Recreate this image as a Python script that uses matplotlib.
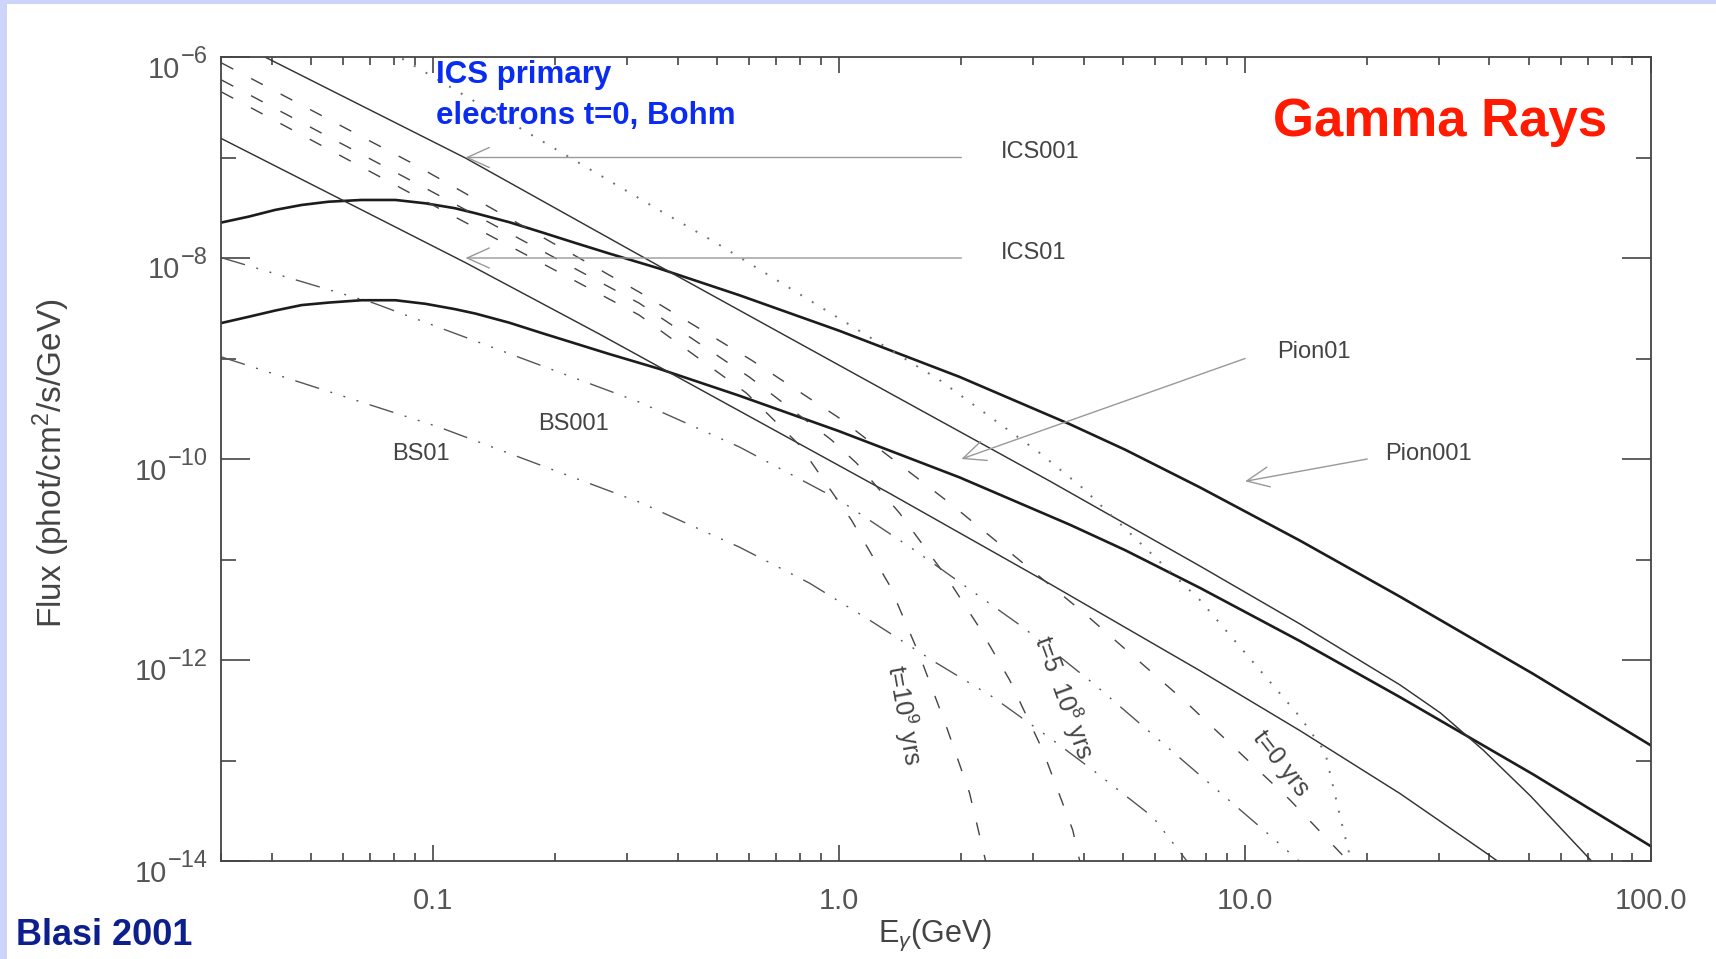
import numpy as np
import matplotlib
matplotlib.use("Agg")
import matplotlib.pyplot as plt
from matplotlib.patches import Rectangle
from matplotlib.ticker import FixedLocator, NullFormatter

plt.rcParams['font.family'] = ['Liberation Sans', 'DejaVu Sans']
plt.rcParams['mathtext.fontset'] = 'custom'
plt.rcParams['mathtext.rm'] = 'Liberation Sans'
plt.rcParams['mathtext.it'] = 'Liberation Sans:italic'
plt.rcParams['mathtext.bf'] = 'Liberation Sans:bold'

# photon energy in GeV, flux in phot/cm^2/s/GeV
# pion decay, two cases
e_pion = [0.03, 0.0351, 0.0408, 0.0474, 0.0552, 0.0666, 0.0807, 0.0957, 0.113, 0.127,
          0.154, 0.186, 0.224, 0.271, 0.36, 0.567, 1.0, 1.98, 3.70, 5.06, 7.74, 13.66,
          24.1, 51.3, 100.0]
pion001 = [2.25e-8, 2.58e-8, 3.01e-8, 3.37e-8, 3.63e-8, 3.78e-8, 3.78e-8, 3.50e-8, 3.13e-8,
           2.79e-8, 2.27e-8, 1.79e-8, 1.41e-8, 1.11e-8, 7.87e-9, 4.27e-9, 1.89e-9, 6.56e-10,
           2.22e-10, 1.24e-10, 5.22e-11, 1.54e-11, 4.26e-12, 7.26e-13, 1.41e-13]
pion01 = [2.25e-9, 2.6e-9, 3.0e-9, 3.4e-9, 3.6e-9, 3.8e-9, 3.8e-9, 3.5e-9, 3.1e-9,
          2.8e-9, 2.27e-9, 1.78e-9, 1.41e-9, 1.11e-9, 7.9e-10, 4.27e-10, 1.89e-10, 6.56e-11,
          2.22e-11, 1.24e-11, 5.22e-12, 1.54e-12, 4.26e-13, 7.26e-14, 1.4e-14]

# ICS from secondary electrons (thin solid)
e_ics001 = [0.03, 0.120, 0.36, 1.33, 3.30, 7.74, 13.66, 24.1, 30.3, 38.6, 50.5, 69.8, 84.1]
ics001 = [1.66e-6, 9.89e-8, 8.32e-9, 4.54e-10, 6.04e-11, 8.61e-12, 2.28e-12, 5.64e-13,
          2.97e-13, 1.27e-13, 4.43e-14, 1.10e-14, 4.9e-15]
e_ics01 = [0.03, 0.120, 0.256, 1.33, 3.30, 7.74, 13.66, 24.1, 39.5, 45.0]
ics01 = [1.55e-7, 9.0e-9, 1.76e-9, 4.56e-11, 5.74e-12, 7.83e-13, 1.98e-13, 4.68e-14,
         1.18e-14, 8.1e-15]

# ICS primary electrons t=0, Bohm (dotted)
e_prim = [0.0734, 0.36, 0.498, 1.767, 3.118, 3.981, 7.74, 13.66, 15.74, 17.15, 18.25, 18.57]
prim = [1.32e-6, 3.00e-8, 1.41e-8, 6.11e-10, 1.15e-10, 5.14e-11, 3.95e-12, 2.71e-13, 1.22e-13,
        2.74e-14, 1.0e-14, 6.5e-15]

# ICS primaries at later times (dashed)
e_t0 = [0.0301, 0.0885, 0.3214, 0.6074, 1.0, 1.871, 3.98, 7.19, 12.9, 17.94, 18.36]
t0 = [8.72e-7, 8.82e-8, 4.59e-9, 9.66e-10, 2.56e-10, 3.65e-11, 3.01e-12, 3.73e-13, 4.05e-14,
      1.0e-14, 6.5e-15]
e_t5e8 = [0.0301, 0.0975, 0.3214, 0.6005, 0.9567, 1.103, 1.408, 1.839, 2.218, 2.630, 3.172,
          3.762, 3.914, 3.959]
t5e8 = [5.90e-7, 4.75e-8, 3.56e-9, 6.55e-10, 1.55e-10, 9.12e-11, 2.90e-11, 6.70e-12, 2.08e-12,
        6.32e-13, 1.27e-13, 2.03e-14, 1.0e-14, 6.5e-15]
e_t1e9 = [0.0301, 0.0975, 0.3214, 0.5904, 0.7977, 1.072, 1.330, 1.577, 1.839, 2.095, 2.295, 2.321]
t1e9 = [4.48e-7, 3.53e-8, 2.71e-9, 4.54e-10, 1.38e-10, 2.47e-11, 5.57e-12, 1.12e-12, 2.15e-13,
        4.75e-14, 1.0e-14, 6.5e-15]

# bremsstrahlung (dash dot)
e_bs001 = [0.03, 0.0713, 0.3214, 0.5673, 1.0, 1.533, 2.831, 4.214, 6.909, 10.89, 13.66, 14.46]
bs001 = [1.01e-8, 3.56e-9, 3.69e-10, 1.32e-10, 3.91e-11, 1.24e-11, 2.13e-12, 5.90e-13, 1.06e-13,
         2.18e-14, 9.8e-15, 8.1e-15]
e_bs01 = [0.03, 0.1032, 0.3214, 0.5673, 0.8444, 1.187, 1.737, 2.388, 3.357, 4.214, 5.926,
          7.189, 7.52]
bs01 = [1.04e-9, 2.08e-10, 3.73e-11, 1.33e-11, 5.83e-12, 2.50e-12, 9.33e-13, 4.29e-13, 1.60e-13,
        8.04e-14, 2.74e-14, 1.0e-14, 6.5e-15]

xticks = [0.1, 1.0, 10.0, 100.0]
xticklabels = ['0.1', '1.0', '10.0', '100.0']
yticks = [1e-14, 1e-12, 1e-10, 1e-8, 1e-6]
yexponents = ['\u221214', '\u221212', '\u221210', '\u22128', '\u22126']

fig = plt.figure(figsize=(17.16, 9.59), dpi=100)
fig.patch.set_facecolor('white')
# light blue slide border
fig.add_artist(Rectangle((0, 0), 7 / 1716, 1, transform=fig.transFigure, color='#cdd4fa', lw=0))
fig.add_artist(Rectangle((0, 1 - 4 / 959), 1, 4 / 959, transform=fig.transFigure, color='#cdd4fa', lw=0))

ax = fig.add_axes([221 / 1716, 1 - 861 / 959, 1430 / 1716, 804 / 959])
ax.set_xscale('log')
ax.set_yscale('log')

dash = (0, (9.5, 14.5))
dashdot = (0, (18, 8.5, 1.4, 8.5, 1.4, 8.5, 1.4, 8.5))
dots = (0, (1, 6))

ax.plot(e_pion, pion001, color='#1c1c1c', lw=1.9)
ax.plot(e_pion, pion01, color='#1c1c1c', lw=1.9)
ax.plot(e_ics001, ics001, color='#333333', lw=1.05)
ax.plot(e_ics01, ics01, color='#333333', lw=1.05)
ax.plot(e_prim, prim, color='#707070', lw=1.4, linestyle=dots)
ax.plot(e_t0, t0, color='#444444', lw=1.0, linestyle=dash)
ax.plot(e_t5e8, t5e8, color='#444444', lw=1.0, linestyle=dash)
ax.plot(e_t1e9, t1e9, color='#444444', lw=1.0, linestyle=dash)
ax.plot(e_bs001, bs001, color='#555555', lw=1.0, linestyle=dashdot)
ax.plot(e_bs01, bs01, color='#555555', lw=1.0, linestyle=dashdot)

ax.set_xlim(0.03, 100)
ax.set_ylim(1e-14, 1e-6)

ax.xaxis.set_major_locator(FixedLocator(xticks))
ax.set_xticklabels(xticklabels)
ax.xaxis.set_minor_locator(FixedLocator([m * 10.0 ** k for k in range(-2, 2) for m in range(2, 10)]))
ax.xaxis.set_minor_formatter(NullFormatter())
ax.yaxis.set_major_locator(FixedLocator(yticks))
ax.yaxis.set_major_formatter(NullFormatter())
ax.yaxis.set_minor_locator(FixedLocator([1e-13, 1e-11, 1e-9, 1e-7]))
ax.yaxis.set_minor_formatter(NullFormatter())

ax.tick_params(which='both', direction='in', top=True, right=True, color='#444444', width=1.2)
ax.tick_params(axis='x', which='major', length=11.5, pad=19, labelsize=21, labelcolor='#555555')
ax.tick_params(axis='x', which='minor', length=5.5)
ax.tick_params(axis='y', which='major', length=21)
ax.tick_params(axis='y', which='minor', length=10.5)
for s in ax.spines.values():
    s.set_color('#444444')
    s.set_linewidth(1.3)

# IDL style y labels: big "10" with a large raised exponent
for v, ex in zip(yticks, yexponents):
    t_exp = ax.text(-0.0091, v, ex, transform=ax.get_yaxis_transform(), ha='right',
                    va='center', fontsize=17, color='#555555')
    ax.annotate('10', xy=(0, 0.5), xycoords=t_exp, xytext=(-1, -9), textcoords='offset points',
                ha='right', va='center', fontsize=21, color='#555555')

ax.set_xlabel(r'E$_\gamma$(GeV)', fontsize=22, color='#444444')
ax.xaxis.set_label_coords(0.499, -0.071)
ax.set_ylabel(r'Flux (phot/cm$^2$/s/GeV)', fontsize=24, color='#444444')
ax.yaxis.set_label_coords(-0.104, 0.495)

# arrows and curve labels
arrow = dict(arrowstyle='->,head_length=0.8,head_width=0.36', color='#999999', lw=1.0,
             shrinkA=0, shrinkB=0, mutation_scale=20)
ax.annotate('', xy=(0.12, 1e-7), xytext=(2.0, 1e-7), arrowprops=arrow)
ax.annotate('', xy=(0.12, 1e-8), xytext=(2.0, 1e-8), arrowprops=arrow)
ax.annotate('', xy=(2.0, 1e-10), xytext=(10.0, 1e-9), arrowprops=arrow)
ax.annotate('', xy=(10.0, 6e-11), xytext=(20.0, 1e-10), arrowprops=arrow)

lab = dict(fontsize=17, color='#444444')
ax.text(2.5, 1.13e-7, 'ICS001', ha='left', va='center', **lab)
ax.text(2.5, 1.12e-8, 'ICS01', ha='left', va='center', **lab)
ax.text(12.0, 1.16e-9, 'Pion01', ha='left', va='center', **lab)
ax.text(22.1, 1.11e-10, 'Pion001', ha='left', va='center', **lab)
ax.text(0.2215, 2.25e-10, 'BS001', ha='center', va='center', **lab)
ax.text(0.0934, 1.11e-10, 'BS01', ha='center', va='center', **lab)
rot = dict(fontsize=18, color='#444444', ha='center', va='center', rotation_mode='anchor')
ax.text(1.448, 2.84e-13, r't=10$^9$ yrs', rotation=-80, **rot)
ax.text(3.574, 4.29e-13, r't=5  10$^8$ yrs', rotation=-70, **rot)
ax.text(12.27, 9.44e-14, 't=0 yrs', rotation=-52, **rot)

# slide annotations
fig.text(436 / 1716, 1 - 83 / 959, 'ICS primary', fontsize=22.5, fontweight='bold',
         color='#0a2cf0', ha='left', va='baseline')
fig.text(436 / 1716, 1 - 124 / 959, 'electrons t=0, Bohm', fontsize=22.5, fontweight='bold',
         color='#0a2cf0', ha='left', va='baseline')
fig.text(1273 / 1716, 1 - 136 / 959, 'Gamma Rays', fontsize=38, fontweight='bold',
         color='#ff1a00', ha='left', va='baseline')
fig.text(16 / 1716, 1 - 945 / 959, 'Blasi 2001', fontsize=26, fontweight='bold',
         color='#0c1f8c', ha='left', va='baseline')

fig.savefig('out.png', dpi=100, facecolor='white')
